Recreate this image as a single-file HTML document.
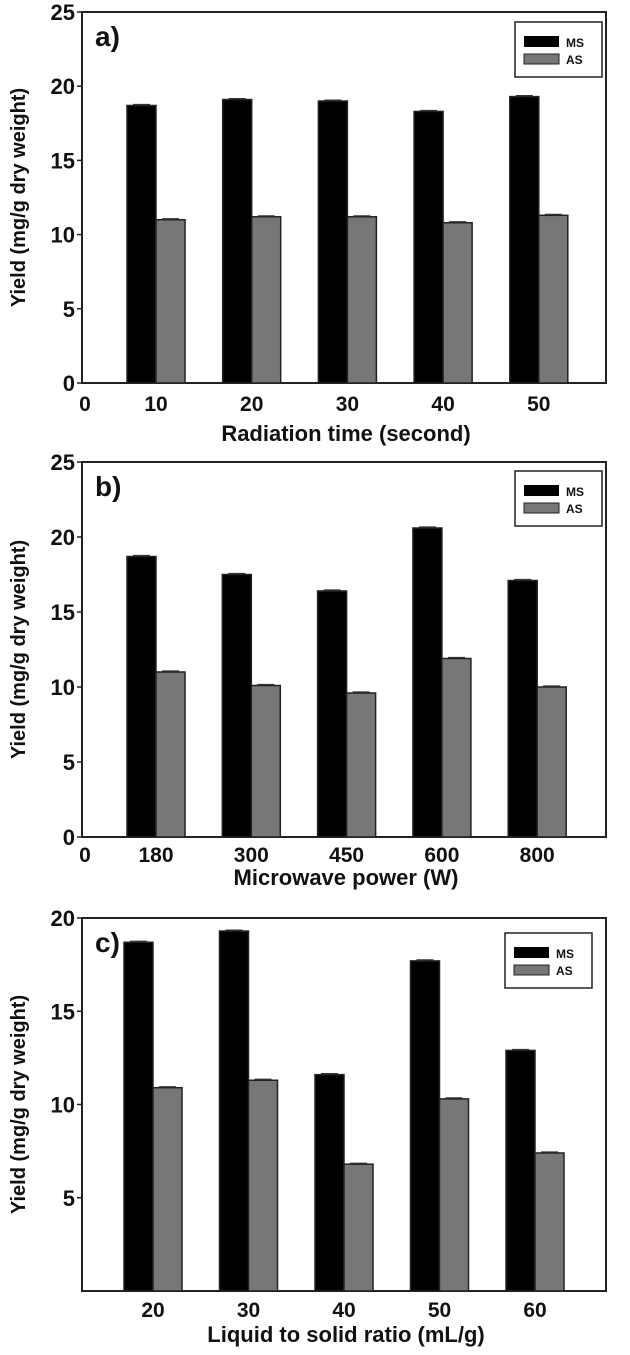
<!DOCTYPE html>
<html><head><meta charset="utf-8"><style>
html,body{margin:0;padding:0;background:#fff;width:630px;height:1355px;overflow:hidden}
svg{display:block}
text{font-family:"Liberation Sans",sans-serif;font-weight:bold;fill:#111}
</style></head><body>
<svg id="chart" width="630" height="1355" viewBox="0 0 630 1355"></svg>
<script>
const categoriesA = ["10","20","30","40","50"];
const msA = [18.7, 19.1, 19.0, 18.3, 19.3];
const asA = [11.0, 11.2, 11.2, 10.8, 11.3];
const categoriesB = ["180","300","450","600","800"];
const msB = [18.7, 17.5, 16.4, 20.6, 17.1];
const asB = [11.0, 10.1, 9.6, 11.9, 10.0];
const categoriesC = ["20","30","40","50","60"];
const msC = [18.7, 19.3, 11.6, 17.7, 12.9];
const asC = [10.9, 11.3, 6.8, 10.3, 7.4];
const ticksAB = [0,5,10,15,20,25];
const ticksC = [5,10,15,20];

const NS = "http://www.w3.org/2000/svg";
const svg = document.getElementById("chart");
function mk(tag, attrs, parent, txt){
  const e = document.createElementNS(NS, tag);
  for (const k in attrs) e.setAttribute(k, attrs[k]);
  if (txt !== undefined) e.textContent = txt;
  (parent || svg).appendChild(e);
  return e;
}

function panel(cfg){
  const g = mk("g", {});
  
  
  const L = cfg.left, R = cfg.right, T = cfg.top, B = cfg.bottom;
  const y = v => B - (v - 0) / (cfg.ymax - 0) * (B - T);
  const x = i => cfg.c0 + i * cfg.step;
  const frame = mk("rect", {x:L, y:T, width:R-L, height:B-T, fill:"none", stroke:"#222", "stroke-width":2}, g);
  
  
  cfg.ticks.forEach(t => {
    const yy = y(t);
    const tk = mk("line", {x1:L-5, x2:L, y1:yy, y2:yy, stroke:"#222", "stroke-width":1.5}, g);
    
    
    const lb = mk("text", {x:L-7, y:yy+8, "text-anchor":"end", "font-size":22}, g, String(t));
    
    
  });
  if (cfg.zeroX) {
    const z = mk("text", {x:L+3, y:cfg.xlabY, "text-anchor":"middle", "font-size":21}, g, "0");
    
    
  }
  const bw = 29;
  cfg.cats.forEach((c, i) => {
    const cx = x(i);
    [[cfg.ms, "#000", cx - bw, "bar-ms"], [cfg.as, "#777", cx, "bar-as"]].forEach(s => {
      const v = s[0][i], yy = y(v);
      const r = mk("rect", {x:s[2], y:yy, width:bw, height:B-yy, fill:s[1], stroke:"#222", "stroke-width":1.5}, g);
      
      
      const eb = mk("line", {x1:s[2]+6, x2:s[2]+bw-6, y1:yy-1, y2:yy-1, stroke:"#333", "stroke-width":1.2}, g);
      
      
    });
    const tl = mk("text", {x:cx, y:cfg.xlabY, "text-anchor":"middle", "font-size":21}, g, c);
    
    
  });
  const xt = mk("text", {x:(L+R)/2 + 2, y:cfg.xtitleY, "text-anchor":"middle", "font-size":22}, g, cfg.xtitle);
  
  
  const yc = (T + B) / 2;
  const yt = mk("text", {x:0, y:0, transform:`translate(25,${yc}) rotate(-90)`, "text-anchor":"middle", "font-size":20}, g, cfg.ytitle);
  
  
  const pl = mk("text", {x:L+13, y:T+34, "font-size":28}, g, cfg.label);
  
  
  const lg = mk("g", {}, g);
  
  
  const lx = cfg.legX, ly = cfg.legY;
  mk("rect", {x:lx, y:ly, width:87, height:55, fill:"#fff", stroke:"#222", "stroke-width":1.5}, lg);
  const e1 = mk("rect", {x:lx+9, y:ly+14, width:35, height:11, fill:"#000"}, lg);
  
  
  const e2 = mk("rect", {x:lx+9, y:ly+32, width:35, height:10, fill:"#777", stroke:"#222", "stroke-width":1}, lg);
  
  
  const t1 = mk("text", {x:lx+51, y:ly+25, "font-size":12}, lg, "MS");
  
  
  const t2 = mk("text", {x:lx+51, y:ly+42, "font-size":12}, lg, "AS");
  
  
}

panel({name:"panel-a", left:82, right:606, top:12, bottom:383, ymax:25, ticks:ticksAB,
  cats:categoriesA, ms:msA, as:asA, c0:156, step:95.7, xlabY:411, xtitleY:441,
  xtitle:"Radiation time (second)", ytitle:"Yield (mg/g dry weight)", label:"a)",
  legX:515, legY:22, zeroX:true});
panel({name:"panel-b", left:82, right:606, top:462, bottom:837, ymax:25, ticks:ticksAB,
  cats:categoriesB, ms:msB, as:asB, c0:156, step:95.3, xlabY:862, xtitleY:885,
  xtitle:"Microwave power (W)", ytitle:"Yield (mg/g dry weight)", label:"b)",
  legX:515, legY:471, zeroX:true});
panel({name:"panel-c", left:82, right:606, top:918, bottom:1291, ymax:20, ticks:ticksC,
  cats:categoriesC, ms:msC, as:asC, c0:153, step:95.5, xlabY:1317, xtitleY:1342,
  xtitle:"Liquid to solid ratio (mL/g)", ytitle:"Yield (mg/g  dry weight)", label:"c)",
  legX:505, legY:933, zeroX:false});
</script>
</body></html>
